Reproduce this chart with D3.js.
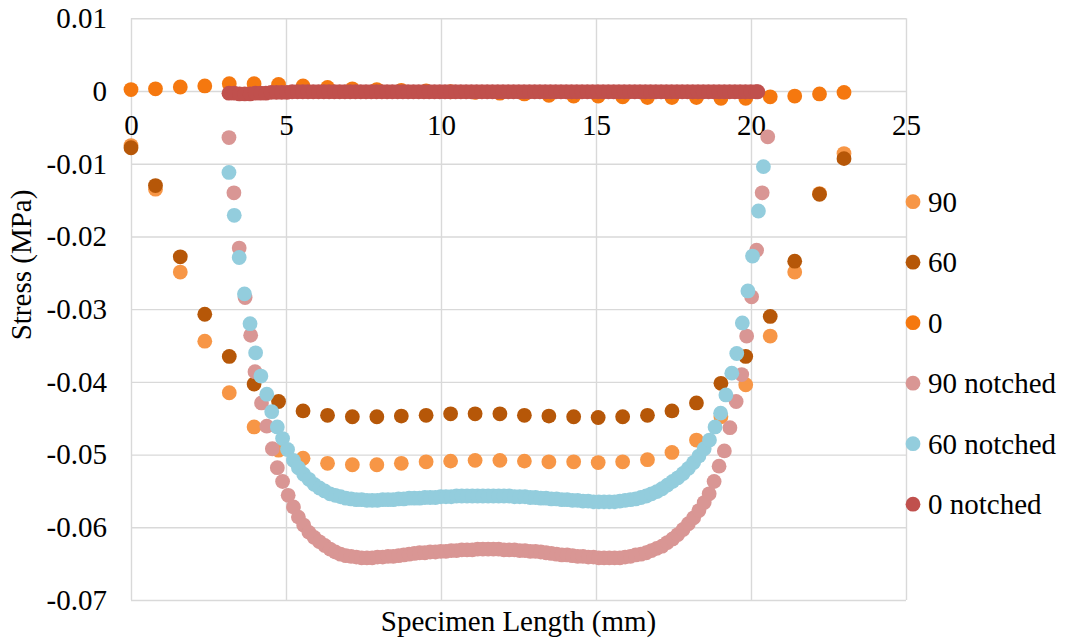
<!DOCTYPE html>
<html>
<head>
<meta charset="utf-8">
<script src="https://cdn.jsdelivr.net/npm/d3@7"></script>
<style>
  html, body { margin: 0; padding: 0; background: #ffffff; }
  svg text { font-family: "Liberation Serif", "Times New Roman", serif; fill: #000; }
</style>
</head>
<body>
<svg id="chart" width="1067" height="644"></svg>
<script>
// ---- data ----
const seriesNames  = ["90", "60", "0", "90 notched", "60 notched", "0 notched"];
const seriesColors = ["#F79646", "#B65708", "#F5780F", "#D99694", "#93CDDD", "#C0504D"];
const xTicks = [0, 5, 10, 15, 20, 25];
const yTicks = [0.01, 0, -0.01, -0.02, -0.03, -0.04, -0.05, -0.06, -0.07];

// un-notched specimens (coarse mesh)
const xPlain = [0, 0.79, 1.59, 2.38, 3.17, 3.97, 4.76, 5.55, 6.34, 7.14, 7.93, 8.72, 9.52, 10.31, 11.1,
                11.9, 12.69, 13.48, 14.28, 15.07, 15.86, 16.66, 17.45, 18.24, 19.03, 19.83, 20.62, 21.41, 22.21, 23.0];
const y90 = [-0.0075, -0.0135, -0.0249, -0.0344, -0.0415, -0.0462, -0.0494, -0.0505, -0.0512, -0.0514,
             -0.0514, -0.0512, -0.0510, -0.0509, -0.0508, -0.0508, -0.0509, -0.0510, -0.0510, -0.0511,
             -0.0510, -0.0507, -0.0497, -0.0480, -0.0448, -0.0404, -0.0337, -0.0249, -0.0141, -0.0086];
const y60 = [-0.0078, -0.0130, -0.0228, -0.0307, -0.0365, -0.0403, -0.0427, -0.0440, -0.0446, -0.0448,
             -0.0448, -0.0447, -0.0446, -0.0444, -0.0444, -0.0444, -0.0446, -0.0447, -0.0448, -0.0449,
             -0.0448, -0.0446, -0.0440, -0.0429, -0.0402, -0.0365, -0.0310, -0.0234, -0.0142, -0.0093];
const y0 = [0.0002, 0.0003, 0.00055, 0.0007, 0.0010, 0.0010, 0.0009, 0.0007, 0.0005, 0.0003,
            0.0002, 0.0001, 0.0000, -0.0001, -0.0002, -0.0003, -0.0004, -0.0006, -0.0007, -0.0007,
            -0.0008, -0.0009, -0.0009, -0.0009, -0.0010, -0.0010, -0.0008, -0.0007, -0.0004, -0.0002];

// notched specimens (fine mesh)
const x90n = [3.16, 3.32, 3.49, 3.68, 3.86, 4.00, 4.21, 4.38, 4.56, 4.72, 4.89, 5.07, 5.24, 5.40,
  5.57, 5.74, 5.91, 6.08, 6.25, 6.42, 6.59, 6.76, 6.93, 7.10, 7.27, 7.44, 7.61, 7.78, 7.95, 8.12,
  8.29, 8.46, 8.63, 8.80, 8.97, 9.14, 9.31, 9.48, 9.65, 9.82, 9.99, 10.16, 10.33, 10.50, 10.67, 10.84,
  11.01, 11.18, 11.35, 11.52, 11.69, 11.86, 12.03, 12.20, 12.37, 12.54, 12.71, 12.88, 13.05, 13.22,
  13.39, 13.56, 13.73, 13.90, 14.07, 14.24, 14.41, 14.58, 14.75, 14.92, 15.09, 15.26, 15.43, 15.60,
  15.77, 15.94, 16.11, 16.28, 16.45, 16.62, 16.79, 16.96, 17.13, 17.30, 17.47, 17.64, 17.81, 17.98,
  18.15, 18.32, 18.49, 18.65, 18.81, 18.97, 19.14, 19.32, 19.52, 19.70, 19.86, 20.02, 20.18, 20.36, 20.54];
const y90n = [-0.0064, -0.0140, -0.0216, -0.0284, -0.0336, -0.0386, -0.0429, -0.0461, -0.0492, -0.0518,
  -0.0537, -0.0556, -0.0572, -0.0586, -0.0597, -0.0607, -0.0614, -0.0620, -0.0625, -0.0630, -0.0634,
  -0.0637, -0.0639, -0.0640, -0.0641, -0.0642, -0.0642, -0.0642, -0.0641, -0.0641, -0.0640, -0.0640,
  -0.0639, -0.0638, -0.0637, -0.0636, -0.0635, -0.0635, -0.0634, -0.0634, -0.0633, -0.0633, -0.0632,
  -0.0632, -0.0631, -0.0631, -0.0631, -0.0630, -0.0630, -0.0630, -0.0630, -0.0630, -0.0631, -0.0631,
  -0.0631, -0.0632, -0.0632, -0.0633, -0.0633, -0.0634, -0.0635, -0.0636, -0.0637, -0.0638, -0.0638,
  -0.0639, -0.0640, -0.0640, -0.0641, -0.0641, -0.0642, -0.0642, -0.0642, -0.0642, -0.0642, -0.0641,
  -0.0640, -0.0638, -0.0637, -0.0635, -0.0632, -0.0629, -0.0626, -0.0621, -0.0616, -0.0610, -0.0603,
  -0.0595, -0.0587, -0.0577, -0.0566, -0.0554, -0.0537, -0.0516, -0.0495, -0.0463, -0.0427, -0.0390,
  -0.0337, -0.0283, -0.0219, -0.0140, -0.0063];

const x60n = [3.16, 3.33, 3.49, 3.66, 3.84, 4.02, 4.19, 4.38, 4.54, 4.72, 4.89, 5.05, 5.24, 5.40,
  5.57, 5.74, 5.91, 6.08, 6.25, 6.42, 6.59, 6.76, 6.93, 7.10, 7.27, 7.44, 7.61, 7.78, 7.95, 8.12,
  8.29, 8.46, 8.63, 8.80, 8.97, 9.14, 9.31, 9.48, 9.65, 9.82, 9.99, 10.16, 10.33, 10.50, 10.67, 10.84,
  11.01, 11.18, 11.35, 11.52, 11.69, 11.86, 12.03, 12.20, 12.37, 12.54, 12.71, 12.88, 13.05, 13.22,
  13.39, 13.56, 13.73, 13.90, 14.07, 14.24, 14.41, 14.58, 14.75, 14.92, 15.09, 15.26, 15.43, 15.60,
  15.77, 15.94, 16.11, 16.28, 16.45, 16.62, 16.79, 16.96, 17.13, 17.30, 17.47, 17.64, 17.81, 17.98,
  18.15, 18.32, 18.49, 18.66, 18.84, 19.02, 19.19, 19.38, 19.54, 19.72, 19.90, 20.05, 20.24, 20.40];
const y60n = [-0.0112, -0.0171, -0.0229, -0.0279, -0.0320, -0.0360, -0.0392, -0.0417, -0.0441, -0.0462,
  -0.0478, -0.0493, -0.0508, -0.0518, -0.0527, -0.0534, -0.0541, -0.0546, -0.0550, -0.0554, -0.0556,
  -0.0558, -0.0560, -0.0561, -0.0562, -0.0562, -0.0563, -0.0563, -0.0563, -0.0562, -0.0562, -0.0562,
  -0.0561, -0.0561, -0.0560, -0.0560, -0.0560, -0.0559, -0.0559, -0.0559, -0.0558, -0.0558, -0.0558,
  -0.0557, -0.0557, -0.0557, -0.0557, -0.0557, -0.0557, -0.0557, -0.0557, -0.0557, -0.0557, -0.0557,
  -0.0558, -0.0558, -0.0558, -0.0559, -0.0559, -0.0560, -0.0560, -0.0561, -0.0561, -0.0562, -0.0562,
  -0.0563, -0.0563, -0.0564, -0.0564, -0.0565, -0.0565, -0.0565, -0.0565, -0.0565, -0.0564, -0.0563,
  -0.0562, -0.0561, -0.0559, -0.0557, -0.0554, -0.0551, -0.0547, -0.0542, -0.0537, -0.0532, -0.0526,
  -0.0519, -0.0511, -0.0502, -0.0492, -0.0480, -0.0462, -0.0443, -0.0418, -0.0388, -0.0361, -0.0319,
  -0.0275, -0.0227, -0.0165, -0.0104];

const x0n = [3.16, 3.33, 3.50, 3.67, 3.84, 4.01, 4.18, 4.35, 4.52, 4.69, 4.86, 5.03, 5.20, 5.37,
  5.54, 5.71, 5.88, 6.05, 6.22, 6.39, 6.56, 6.73, 6.90, 7.07, 7.24, 7.41, 7.58, 7.75, 7.92, 8.09,
  8.26, 8.43, 8.60, 8.77, 8.94, 9.11, 9.28, 9.45, 9.62, 9.79, 9.96, 10.13, 10.30, 10.47, 10.64, 10.81,
  10.98, 11.15, 11.32, 11.49, 11.66, 11.83, 12.00, 12.17, 12.34, 12.51, 12.68, 12.85, 13.02, 13.19,
  13.36, 13.53, 13.70, 13.87, 14.04, 14.21, 14.38, 14.55, 14.72, 14.89, 15.06, 15.23, 15.40, 15.57,
  15.74, 15.91, 16.08, 16.25, 16.42, 16.59, 16.76, 16.93, 17.10, 17.27, 17.44, 17.61, 17.78, 17.95,
  18.12, 18.29, 18.46, 18.63, 18.80, 18.97, 19.14, 19.31, 19.48, 19.65, 19.82, 19.99, 20.16, 20.22];
const y0n = [-0.0003, -0.0003, -0.0004, -0.0004, -0.0004, -0.0003, -0.0003, -0.0003, -0.0002, -0.0002,
  -0.0002, -0.0002, -0.0001, -0.0001, -0.0001, -0.0001, -0.0001, -0.0001, -0.0001, -0.0001, -0.0001,
  -0.0001, -0.0001, -0.0001, -0.0001, -0.0001, -0.0001, -0.0001, -0.0001, -0.0001, -0.0001, -0.0001,
  -0.0001, -0.0001, -0.0001, -0.0001, -0.0001, -0.0001, -0.0001, -0.0001, -0.0001, -0.0001, -0.0001,
  -0.0001, -0.0001, -0.0001, -0.0001, -0.0001, -0.0001, -0.0001, -0.0001, -0.0001, -0.0001, -0.0001,
  -0.0001, -0.0001, -0.0001, -0.0001, -0.0001, -0.0001, -0.0001, -0.0001, -0.0001, -0.0001, -0.0001,
  -0.0001, -0.0001, -0.0001, -0.0001, -0.0001, -0.0001, -0.0001, -0.0001, -0.0001, -0.0001, -0.0001,
  -0.0001, -0.0001, -0.0001, -0.0001, -0.0001, -0.0001, -0.0001, -0.0001, -0.0001, -0.0001, -0.0001,
  -0.0001, -0.0001, -0.0001, -0.0001, -0.0001, -0.0001, -0.0001, -0.0001, -0.0001, -0.0001, -0.0001,
  -0.0001, -0.0001, -0.0001, -0.0001];

const seriesX = [xPlain, xPlain, xPlain, x90n, x60n, x0n];
const seriesY = [y90, y60, y0, y90n, y60n, y0n];

// ---- layout ----
const plotL = 131, plotR = 906, plotT = 18.3, plotB = 600;
const dotR = 7.4;
const fontSz = 29;
const fontFam = "'Liberation Serif', 'Times New Roman', serif";

const svg = d3.select("#chart");

const xSc = d3.scaleLinear().domain([0, 25]).range([plotL, plotR]);
const ySc = d3.scaleLinear().domain([-0.07, 0.01]).range([plotB, plotT]);

// gridlines (vertical + horizontal)
svg.append("g")
   .attr("class", "gridX")
   .attr("transform", "translate(0," + plotB + ")")
   .call(d3.axisBottom(xSc).tickValues(xTicks).tickSize(-(plotB - plotT)).tickFormat(""))
   .call(g => g.select(".domain").remove())
   .call(g => g.selectAll("line").attr("stroke", "#D9D9D9").attr("stroke-width", 1.4));

svg.append("g")
   .attr("class", "gridY")
   .attr("transform", "translate(" + plotL + ",0)")
   .call(d3.axisLeft(ySc).tickValues(yTicks).tickSize(-(plotR - plotL)).tickFormat(""))
   .call(g => g.select(".domain").remove())
   .call(g => g.selectAll("line").attr("stroke", "#D9D9D9").attr("stroke-width", 1.4));

// y tick labels
svg.append("g")
   .attr("class", "axisY")
   .attr("transform", "translate(" + plotL + ",0)")
   .call(d3.axisLeft(ySc).tickValues(yTicks).tickSize(0).tickPadding(24)
          .tickFormat(d => d === 0 ? "0" : String(+d.toFixed(2))))
   .call(g => g.select(".domain").remove())
   .call(g => g.selectAll("text")
               .style("font-family", fontFam)
               .style("font-size", fontSz + "px")
               .attr("fill", "#000"));

// x tick labels sit under the zero line
svg.append("g")
   .attr("class", "axisX")
   .attr("transform", "translate(0," + ySc(0) + ")")
   .call(d3.axisBottom(xSc).tickValues(xTicks).tickSize(0).tickPadding(23).tickFormat(d3.format("d")))
   .call(g => g.select(".domain").remove())
   .call(g => g.selectAll("text")
               .style("font-family", fontFam)
               .style("font-size", fontSz + "px")
               .attr("fill", "#000"));

// series markers
seriesNames.forEach((nm, si) => {
  const pts = seriesX[si].map((xv, i) => ({ x: xv, y: seriesY[si][i] }));
  svg.append("g")
     .attr("class", "series s" + si)
     .attr("fill", seriesColors[si])
     .selectAll("circle")
     .data(pts)
     .enter()
       .append("circle")
         .attr("cx", d => xSc(d.x))
         .attr("cy", d => ySc(d.y))
         .attr("r", dotR);
});

// axis titles
svg.append("text")
   .attr("x", (plotL + plotR) / 2)
   .attr("y", 631)
   .attr("text-anchor", "middle")
   .style("font-size", fontSz + "px")
   .text("Specimen Length (mm)");

svg.append("text")
   .attr("transform", "translate(31,265) rotate(-90)")
   .attr("text-anchor", "middle")
   .style("font-size", fontSz + "px")
   .text("Stress (MPa)");

// legend
const lgX = 913, lgY0 = 201.7, lgStep = 60.5;
const lg = svg.append("g").attr("class", "legend");
const lgRows = lg.selectAll("g")
   .data(seriesNames)
   .enter()
     .append("g")
       .attr("transform", (d, i) => "translate(" + lgX + "," + (lgY0 + i * lgStep) + ")");
lgRows.append("circle")
   .attr("r", dotR)
   .attr("fill", (d, i) => seriesColors[i]);
lgRows.append("text")
   .attr("x", 15)
   .attr("y", 10)
   .style("font-size", fontSz + "px")
   .text(d => d);
</script>
</body>
</html>
